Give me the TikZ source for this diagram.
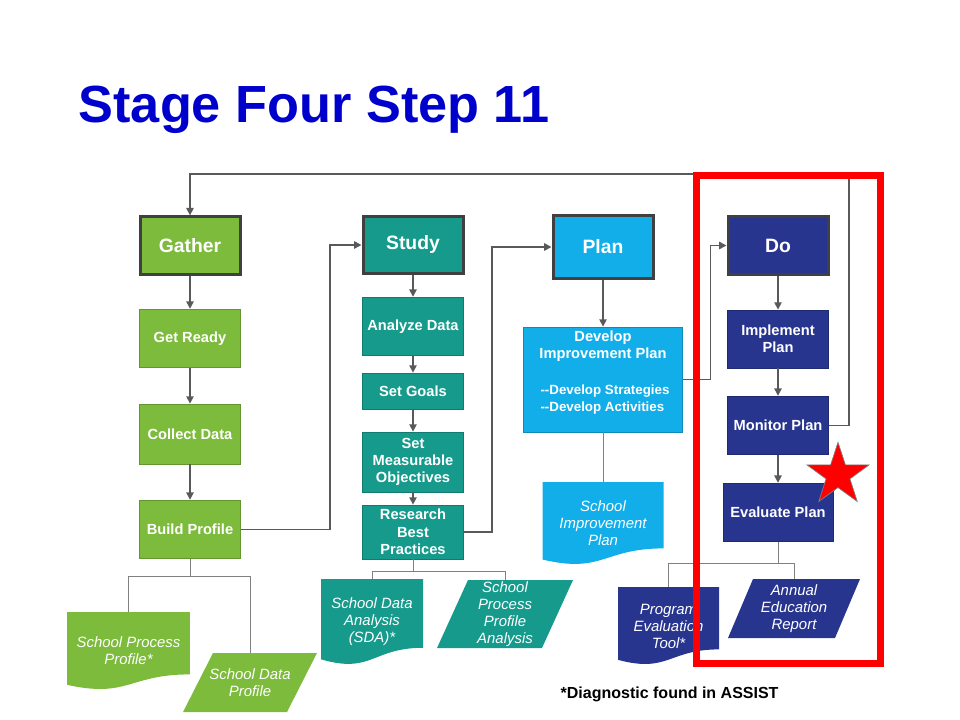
\documentclass[tikz,border=0pt]{standalone}
\usepackage{fontspec}
\setmainfont{Liberation Sans}
\usetikzlibrary{arrows.meta,calc,shapes.geometric}
\definecolor{gathergreen}{RGB}{124,187,59}
\definecolor{studyteal}{RGB}{22,154,140}
\definecolor{planblue}{RGB}{17,174,234}
\definecolor{donavy}{RGB}{40,53,143}
\definecolor{edgegray}{RGB}{64,64,64}
\definecolor{linkgray}{RGB}{89,89,89}
\definecolor{titleblue}{RGB}{0,0,204}
\tikzset{
	stage/.style={draw=edgegray, line width=2.25pt, fill=#1, text=white, font=\bfseries\fontsize{14.5}{17}\selectfont, minimum width=75pt, minimum height=43pt, inner sep=2pt},
	task/.style={draw=#1!80!black, line width=0.6pt, fill=#1, text=white, align=center, font=\bfseries\fontsize{11}{13}\selectfont, minimum width=76pt, inner sep=2pt},
	docbox/.style={inner sep=1pt, text=white, align=center, font=\itshape\fontsize{11.2}{12.75}\selectfont,
		path picture={\fill[#1] (path picture bounding box.north west) -- (path picture bounding box.north east)
			-- ($(path picture bounding box.north east)!0.8!(path picture bounding box.south east)$)
			.. controls ($(path picture bounding box.north)!0.8!(path picture bounding box.south)$)
			and ($(path picture bounding box.north)!1.107!(path picture bounding box.south)$)
			.. ($(path picture bounding box.north west)!0.934!(path picture bounding box.south west)$) -- cycle;}},
	parabox/.style 2 args={inner sep=1pt, text=white, align=center, font=\itshape\fontsize{11.2}{12.75}\selectfont,
		path picture={\fill[#1] ($(path picture bounding box.north west)+(#2,0pt)$) -- (path picture bounding box.north east)
			-- ($(path picture bounding box.south east)-(#2,0pt)$) -- (path picture bounding box.south west) -- cycle;}},
	link/.style={draw=linkgray, line width=1.1pt, -{Triangle[length=5.5pt,width=5.5pt]}},
	branch/.style={draw=gray, line width=0.75pt},
	highlight/.style={draw=red, line width=5.25pt}
}
\begin{document}
\begin{tikzpicture}[x=0.75pt,y=-0.75pt]
	\useasboundingbox (0,0) rectangle (960,720);
	\node[anchor=base west, text=titleblue, font=\bfseries\fontsize{39.2}{46}\selectfont] (title) at (74,123) {Stage Four Step 11};

	\node[stage=gathergreen] (gather) at (190,245.5) {Gather};
	\node[task=gathergreen, minimum height=44pt] (ready) at (190,338.5) {Get Ready};
	\node[task=gathergreen, minimum height=45pt] (collect) at (190,434) {Collect Data};
	\node[task=gathergreen, minimum height=44pt] (build) at (190,529.5) {Build Profile};
	\node[docbox=gathergreen, minimum width=92pt, minimum height=58.5pt] (spp) at (128.5,651) {School Process\\Profile*};
	\node[parabox={gathergreen}{22.5pt}, minimum width=100.5pt, minimum height=44.25pt] (sdp) at (250,682.5) {School Data\\Profile};

	\node[stage=studyteal] (study) at (413,245) {Study};
	\node[task=studyteal, minimum height=44pt] (analyze) at (413,326.5) {Analyze Data};
	\node[task=studyteal, minimum height=27pt] (goals) at (413,391) {Set Goals};
	\node[task=studyteal, minimum height=45pt] (objectives) at (413,462) {Set\\Measurable\\Objectives};
	\node[task=studyteal, minimum height=40.5pt] (research) at (413,532) {Research\\Best\\Practices};
	\node[docbox=studyteal, minimum width=76.5pt, minimum height=64.5pt] (sda) at (372,622) {School Data\\Analysis\\(SDA)*};
	\node[parabox={studyteal}{23.25pt}, minimum width=102pt, minimum height=51pt] (sppa) at (505,614) {School\\Process\\Profile\\Analysis};

	\node[stage=planblue, minimum height=47pt] (plan) at (603,247) {Plan};
	\node[task=planblue, minimum width=119pt, minimum height=78.75pt] (dip) at (603,379.5) {};
	\node[text=white, align=center, font=\bfseries\fontsize{11}{12.75}\selectfont] (diphead) at (603,346.5) {Develop\\Improvement Plan};
	\node[text=white, align=left, font=\bfseries\fontsize{10}{12.75}\selectfont] (diplist) at (605,399.5) {-{}-Develop Strategies\\-{}-Develop Activities};
	\node[docbox=planblue, minimum width=90.75pt, minimum height=62.25pt] (sip) at (603,523.5) {School\\Improvement\\Plan};

	\node[stage=donavy] (do) at (778,245.5) {Do};
	\node[task=donavy, minimum height=43.5pt] (implement) at (778,339) {Implement\\Plan};
	\node[task=donavy, minimum height=44pt] (monitor) at (778,425.5) {Monitor Plan};
	\node[task=donavy, minimum width=82.5pt, minimum height=44pt] (evaluate) at (778,512.5) {Evaluate Plan};
	\node[docbox=donavy, minimum width=75.75pt, minimum height=58.5pt] (pet) at (668.5,626) {Program\\Evaluation\\Tool*};
	\node[parabox={donavy}{18.75pt}, minimum width=99pt, minimum height=44.25pt] (aer) at (794,608.5) {Annual\\Education\\Report};

	\coordinate (looptop) at (849,174);
	\draw[link] (gather) -- (ready);
	\draw[link] (ready) -- (collect);
	\draw[link] (collect) -- (build);
	\draw[link] (study) -- (analyze);
	\draw[link] (analyze) -- (goals);
	\draw[link] (goals) -- (objectives);
	\draw[link] (objectives) -- (research);
	\draw[link] (plan) -- (dip);
	\draw[link] (do) -- (implement);
	\draw[link] (implement) -- (monitor);
	\draw[link] (monitor) -- (evaluate);
	\draw[link] (build.east) -- ++(89,0) |- (study.west);
	\draw[link] (research.east) -- ++(28,0) |- (plan.west);
	\draw[link] (dip.east) -- ++(28,0) |- (do.west);
	\draw[link] (monitor.east) -| (looptop) -| (gather.north);

	\draw[branch] (build.south) -- ++(0,17.5) coordinate (bj);
	\draw[branch] (spp.north) |- (bj) -| (sdp.north);
	\draw[branch] (research.south) -- ++(0,12) coordinate (rj);
	\draw[branch] (sda.north) |- (rj) -| (sppa.north);
	\draw[branch] (dip.south) -- (sip.north);
	\draw[branch] (evaluate.south) -- ++(0,21) coordinate (ej);
	\draw[branch] (pet.north) |- (ej) -| (aer.north);

	\node[star, star points=5, star point ratio=2.6, minimum size=49pt, inner sep=0pt, fill=red, draw=gray, line width=0.5pt] (evalstar) at (838,475) {};
	\draw[highlight] (696,176) rectangle (880,663);
	\node[anchor=base west, font=\bfseries\fontsize{12}{14}\selectfont] (note) at (556,698) {*Diagnostic found in ASSIST};
\end{tikzpicture}
\end{document}
